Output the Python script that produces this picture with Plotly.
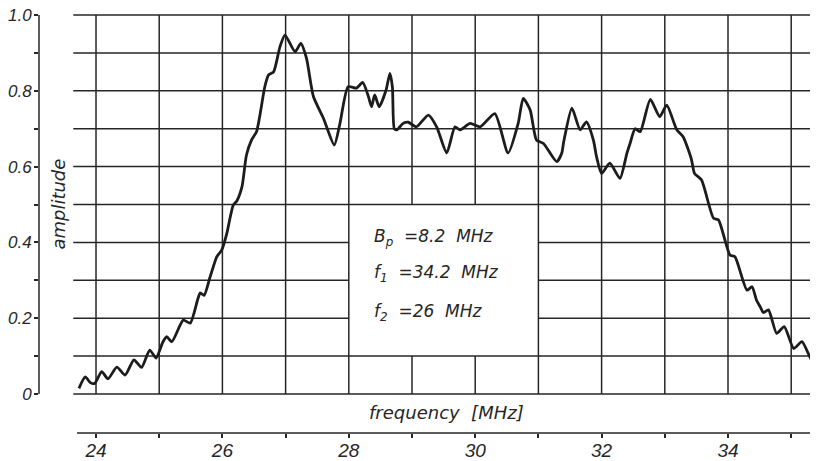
import plotly.graph_objects as go

# ---- data ----
freq = [23.73, 23.83, 23.91, 23.98, 24.09, 24.19, 24.33, 24.46, 24.60, 24.72,
        24.85, 24.95, 25.06, 25.12, 25.20, 25.38, 25.49, 25.61, 25.65, 25.71,
        25.80, 25.91, 25.99, 26.07, 26.17, 26.23, 26.31, 26.38, 26.46, 26.54,
        26.59, 26.67, 26.73, 26.81, 26.91, 26.99, 27.15, 27.24, 27.33, 27.44,
        27.60, 27.77, 27.86, 27.99, 28.12, 28.22, 28.31, 28.36, 28.41, 28.48,
        28.59, 28.65, 28.69, 28.72, 28.76, 28.86, 28.94, 29.07, 29.26, 29.39,
        29.55, 29.68, 29.76, 29.92, 30.08, 30.31, 30.52, 30.68, 30.76, 30.87,
        30.97, 31.08, 31.29, 31.37, 31.40, 31.53, 31.66, 31.76, 31.87, 31.92,
        32.00, 32.13, 32.29, 32.40, 32.45, 32.53, 32.61, 32.77, 32.92, 33.03,
        33.19, 33.29, 33.42, 33.47, 33.58, 33.77, 33.85, 34.03, 34.11, 34.30,
        34.38, 34.45, 34.51, 34.56, 34.64, 34.77, 34.89, 35.04, 35.17, 35.34,
        35.42]
amp = [0.015, 0.045, 0.030, 0.028, 0.059, 0.040, 0.071, 0.050, 0.090, 0.070,
       0.116, 0.095, 0.138, 0.151, 0.138, 0.195, 0.187, 0.250, 0.267, 0.260,
       0.306, 0.362, 0.380, 0.424, 0.498, 0.510, 0.547, 0.630, 0.670, 0.692,
       0.732, 0.810, 0.842, 0.850, 0.916, 0.947, 0.903, 0.925, 0.886, 0.785,
       0.727, 0.657, 0.714, 0.811, 0.807, 0.822, 0.785, 0.758, 0.789, 0.758,
       0.802, 0.846, 0.810, 0.700, 0.697, 0.714, 0.717, 0.705, 0.736, 0.705,
       0.636, 0.705, 0.697, 0.714, 0.705, 0.740, 0.636, 0.714, 0.780, 0.749,
       0.670, 0.661, 0.613, 0.636, 0.665, 0.754, 0.697, 0.718, 0.670, 0.626,
       0.582, 0.609, 0.569, 0.635, 0.661, 0.700, 0.692, 0.777, 0.732, 0.762,
       0.697, 0.679, 0.620, 0.582, 0.565, 0.464, 0.459, 0.367, 0.362, 0.274,
       0.283, 0.248, 0.230, 0.215, 0.222, 0.160, 0.178, 0.120, 0.138, 0.085,
       0.107]

x_tick_vals = [24, 26, 28, 30, 32, 34]
x_tick_text = ["24", "26", "28", "30", "32", "34"]
x_minor_vals = [24, 25, 26, 27, 28, 29, 30, 31, 32, 33, 34, 35]
y_tick_vals = [0, 0.2, 0.4, 0.6, 0.8, 1.0]
y_tick_text = ["0", "0.2", "0.4", "0.6", "0.8", "1.0"]
y_minor_vals = [0, 0.1, 0.2, 0.3, 0.4, 0.5, 0.6, 0.7, 0.8, 0.9, 1.0]

grid_x = [24, 25, 26, 27, 28, 29, 30, 31, 32, 33, 34, 35]
grid_y = [0, 0.1, 0.2, 0.3, 0.4, 0.5, 0.6, 0.7, 0.8, 0.9, 1.0]

param_lines = ["B<sub>p</sub>  =8.2  MHz",
               "f<sub>1</sub>  =34.2  MHz",
               "f<sub>2</sub>  =26  MHz"]
param_y = [0.414, 0.319, 0.216]
x_title = "frequency  [MHz]"
y_title = "amplitude"

# ---- layout constants ----
# the page body has an 8 px margin, so the figure is 8 px smaller than the
# window and its margins are reduced by 8 px on the left and top
X_RANGE = [23.098, 35.424]
Y_RANGE = [-0.1029, 1.0132]
GRID_LEFT = 23.64
BOX_X = (28, 31)      # blank box inside the grid
BOX_Y = (0.1, 0.5)
INK = "#262626"
YTICK_FONT = dict(family="Liberation Sans", size=17, color=INK, style="italic")
XTICK_FONT = dict(family="Liberation Sans", size=19, color=INK, style="italic")
TEXT_FONT = dict(family="DejaVu Sans", size=17, color=INK, style="italic")
TITLE_FONT = dict(family="DejaVu Sans", size=18, color=INK, style="italic")

fig = go.Figure()
fig.add_trace(go.Scatter(x=freq, y=amp, mode="lines",
                         line=dict(color="#1c1c1c", width=2.8,
                                   shape="spline", smoothing=0.6),
                         hoverinfo="skip", showlegend=False))

shapes = []
gl = dict(color=INK, width=1.5)
# horizontal grid lines
for gy in grid_y:
    if BOX_Y[0] < gy < BOX_Y[1]:
        segs = [(GRID_LEFT, BOX_X[0]), (BOX_X[1], X_RANGE[1])]
    else:
        segs = [(GRID_LEFT, X_RANGE[1])]
    for a, b in segs:
        shapes.append(dict(type="line", xref="x", yref="y", x0=a, x1=b,
                           y0=gy, y1=gy, line=gl, layer="below"))
# vertical grid lines
for gx in grid_x:
    if BOX_X[0] < gx < BOX_X[1]:
        segs = [(0, BOX_Y[0]), (BOX_Y[1], 1.0)]
    else:
        segs = [(0, 1.0)]
    for a, b in segs:
        shapes.append(dict(type="line", xref="x", yref="y", x0=gx, x1=gx,
                           y0=a, y1=b, line=gl, layer="below"))
# y axis spine (only 0..1)
shapes.append(dict(type="line", xref="paper", yref="y", x0=0, x1=0,
                   y0=0, y1=1.0, line=dict(color=INK, width=1.5)))
# x axis spine
shapes.append(dict(type="line", xref="x", yref="paper", x0=23.70,
                   x1=X_RANGE[1], y0=0, y1=0, line=dict(color=INK, width=1.5)))

annotations = []
for txt, py in zip(param_lines, param_y):
    annotations.append(dict(x=28.36, y=py, xref="x", yref="y", text=txt,
                            showarrow=False, xanchor="left", yanchor="middle",
                            font=TEXT_FONT))
annotations.append(dict(x=29.54, y=-0.05, xref="x", yref="y", text=x_title,
                        showarrow=False, xanchor="center", yanchor="middle",
                        font=TITLE_FONT))
annotations.append(dict(x=23.40, y=0.50, xref="x", yref="y", text=y_title,
                        showarrow=False, textangle=-90, xanchor="center",
                        yanchor="middle", font=TITLE_FONT))

fig.update_layout(
    width=810, height=453,
    margin=dict(l=31, r=0, t=2, b=28, pad=0, autoexpand=False),
    paper_bgcolor="white", plot_bgcolor="white",
    shapes=shapes, annotations=annotations,
    xaxis=dict(range=X_RANGE, showgrid=False, zeroline=False, showline=False,
               automargin=False, ticklabeloverflow="allow",
               tickmode="array", tickvals=x_tick_vals, ticktext=x_tick_text,
               ticks="outside", ticklen=4, tickwidth=1.5, tickcolor=INK,
               ticklabelstandoff=-4,
               minor=dict(tickmode="array", tickvals=x_minor_vals,
                          ticks="outside", ticklen=4, tickwidth=1.5,
                          tickcolor=INK),
               tickfont=XTICK_FONT, fixedrange=True),
    yaxis=dict(range=Y_RANGE, showgrid=False, zeroline=False, showline=False,
               automargin=False, ticklabeloverflow="allow",
               tickmode="array", tickvals=y_tick_vals, ticktext=y_tick_text,
               ticks="outside", ticklen=4, tickwidth=1.5, tickcolor=INK,
               ticklabelstandoff=-1,
               minor=dict(tickmode="array", tickvals=y_minor_vals,
                          ticks="outside", ticklen=4, tickwidth=1.5,
                          tickcolor=INK),
               tickfont=YTICK_FONT, fixedrange=True),
)

fig.write_html("out.html")
